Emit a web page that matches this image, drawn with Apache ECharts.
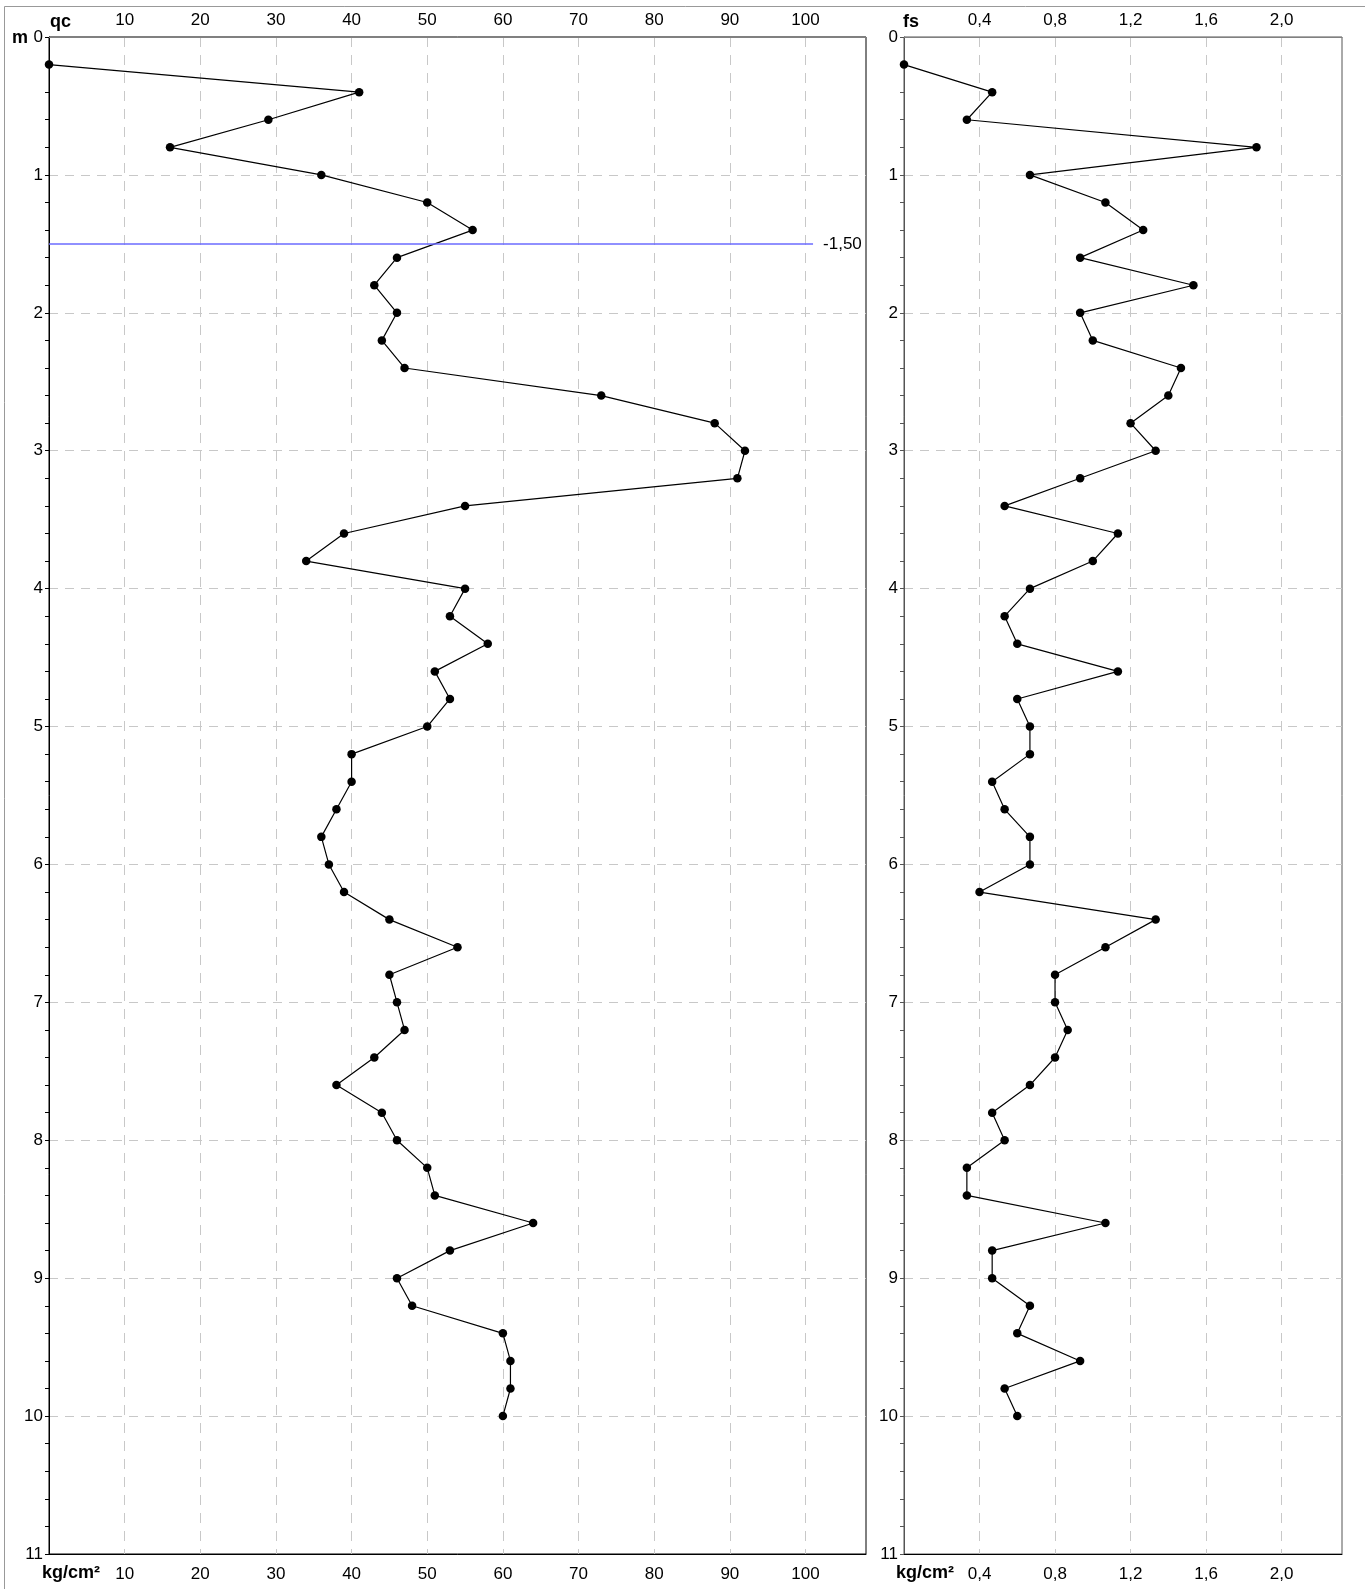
<!DOCTYPE html>
<html>
<head>
<meta charset="utf-8">
<script src="https://cdn.jsdelivr.net/npm/echarts@6/dist/echarts.min.js"></script>
<style>
html,body{margin:0;padding:0;background:#fff;}
#chart{width:1365px;height:1589px;}
</style>
</head>
<body>
<div id="chart"></div>
<script>
// Depth (m) of each reading
var depths = [0.2,0.4,0.6,0.8,1.0,1.2,1.4,1.6,1.8,2.0,2.2,2.4,2.6,2.8,3.0,3.2,3.4,3.6,3.8,4.0,
  4.2,4.4,4.6,4.8,5.0,5.2,5.4,5.6,5.8,6.0,6.2,6.4,6.6,6.8,7.0,7.2,7.4,7.6,7.8,8.0,
  8.2,8.4,8.6,8.8,9.0,9.2,9.4,9.6,9.8,10.0];
// Cone resistance qc (kg/cm²)
var qcValues = [0,41,29,16,36,50,56,46,43,46,44,47,73,88,92,91,55,39,34,55,
  53,58,51,53,50,40,40,38,36,37,39,45,54,45,46,47,43,38,44,46,
  50,51,64,53,46,48,60,61,61,60];
// Lateral friction fs (kg/cm²)
var fsValues = [0,0.467,0.333,1.867,0.667,1.067,1.267,0.933,1.533,0.933,1.0,1.467,1.4,1.2,1.333,0.933,0.533,1.133,1.0,0.667,
  0.533,0.6,1.133,0.6,0.667,0.667,0.467,0.533,0.667,0.667,0.4,1.333,1.067,0.8,0.8,0.867,0.8,0.667,0.467,0.533,
  0.333,0.333,1.067,0.467,0.467,0.667,0.6,0.933,0.533,0.6];
var qcTicks = [10,20,30,40,50,60,70,80,90,100];
var fsTicks = ['0,4','0,8','1,2','1,6','2,0'];
var waterDepth = [1.5];
var waterLineQc = [0, 101];
var waterLabel = '-1,50';

var FONT = 'Liberation Sans, Arial, sans-serif';
var FS = 17;

function zip(xs){ return xs.map(function(v,i){ return [v, depths[i]]; }); }

var chart = echarts.init(document.getElementById('chart'), null, {renderer:'canvas'});

function yAxisDef(gi, lineColor){
  return {
    type:'value', gridIndex:gi, inverse:true, min:0, max:11, interval:1,
    axisLine:{show:true, lineStyle:{color:lineColor, width:1}},
    axisTick:{show:true, length:4, lineStyle:{color:lineColor}},
    minorTick:{show:true, splitNumber:5, length:4, lineStyle:{color:lineColor}},
    axisLabel:{show:true, margin:6, color:'#000', fontSize:FS, fontFamily:FONT},
    splitLine:{show:true, showMinLine:false, showMaxLine:false,
      lineStyle:{color:'#c8c8c8', type:[9,7], width:1}}
  };
}

function qcFmt(v){ return qcTicks.indexOf(Math.round(v)) >= 0 && Math.abs(v-Math.round(v))<1e-6 ? String(Math.round(v)) : ''; }
function fsFmt(v){ var s = v.toFixed(1).replace('.', ','); return fsTicks.indexOf(s) >= 0 && Math.abs(v*10 - Math.round(v*10))<1e-6 ? s : ''; }

var option = {
  animation:false,
  backgroundColor:'#fff',
  grid:[
    {left:49, top:37, width:817, bottom:35, show:true, borderColor:'#000', borderWidth:1},
    {left:904, top:37, width:438, bottom:35, show:true, borderColor:'#555', borderWidth:1}
  ],
  xAxis:[
    {type:'value', gridIndex:0, position:'top', min:0, max:108, interval:10,
      axisLine:{show:true, lineStyle:{color:'#808080'}}, axisTick:{show:false},
      axisLabel:{show:true, margin:8, color:'#000', fontSize:FS, fontFamily:FONT, formatter:qcFmt, showMinLabel:false, showMaxLabel:false},
      splitLine:{show:true, showMinLine:false, showMaxLine:false, lineStyle:{color:'#c8c8c8', type:[10,8], width:1}}},
    {type:'value', gridIndex:0, position:'bottom', min:0, max:108, interval:10,
      axisLine:{show:true, onZero:false, lineStyle:{color:'#000'}}, axisTick:{show:false},
      axisLabel:{show:true, margin:12, color:'#000', fontSize:FS, fontFamily:FONT, formatter:qcFmt, showMinLabel:false, showMaxLabel:false},
      splitLine:{show:false}},
    {type:'value', gridIndex:1, position:'top', min:0, max:2.32, interval:0.4,
      axisLine:{show:true, lineStyle:{color:'#808080'}}, axisTick:{show:false},
      axisLabel:{show:true, margin:8, color:'#000', fontSize:FS, fontFamily:FONT, formatter:fsFmt, showMinLabel:false, showMaxLabel:false},
      splitLine:{show:true, showMinLine:false, showMaxLine:false, lineStyle:{color:'#c8c8c8', type:[10,8], width:1}}},
    {type:'value', gridIndex:1, position:'bottom', min:0, max:2.32, interval:0.4,
      axisLine:{show:true, onZero:false, lineStyle:{color:'#000'}}, axisTick:{show:false},
      axisLabel:{show:true, margin:12, color:'#000', fontSize:FS, fontFamily:FONT, formatter:fsFmt, showMinLabel:false, showMaxLabel:false},
      splitLine:{show:false}}
  ],
  yAxis:[ yAxisDef(0,'#000'), yAxisDef(1,'#555') ],
  series:[
    {type:'line', xAxisIndex:0, yAxisIndex:0, data:zip(qcValues),
      symbol:'circle', symbolSize:8.5, showSymbol:true,
      lineStyle:{color:'#000', width:1.2}, itemStyle:{color:'#000'},
      markLine:{silent:true, symbol:['none','none'], animation:false,
        lineStyle:{color:'#6b6bff', width:1.5, type:'solid'},
        label:{show:true, position:'end', distance:10, formatter:waterLabel, color:'#000', fontSize:FS, fontFamily:FONT},
        data:[[{coord:[waterLineQc[0], waterDepth[0]]},{coord:[waterLineQc[1], waterDepth[0]]}]]}},
    {type:'line', xAxisIndex:2, yAxisIndex:1, data:zip(fsValues),
      symbol:'circle', symbolSize:8.5, showSymbol:true,
      lineStyle:{color:'#000', width:1.2}, itemStyle:{color:'#000'}}
  ],
  graphic:[
    {type:'rect', silent:true, z:-1, shape:{x:4.5, y:6.5, width:1500, height:1700}, style:{fill:null, stroke:'#999', lineWidth:1}},
    {type:'text', left:12, top:29, style:{text:'m', font:'bold 18px '+FONT, fill:'#000'}},
    {type:'text', left:50, top:13, style:{text:'qc', font:'bold 18px '+FONT, fill:'#000'}},
    {type:'text', left:903, top:13, style:{text:'fs', font:'bold 18px '+FONT, fill:'#000'}},
    {type:'text', left:42, top:1564, style:{text:'kg/cm²', font:'bold 18px '+FONT, fill:'#000'}},
    {type:'text', left:896, top:1564, style:{text:'kg/cm²', font:'bold 18px '+FONT, fill:'#000'}}
  ]
};
chart.setOption(option);
</script>
</body>
</html>
